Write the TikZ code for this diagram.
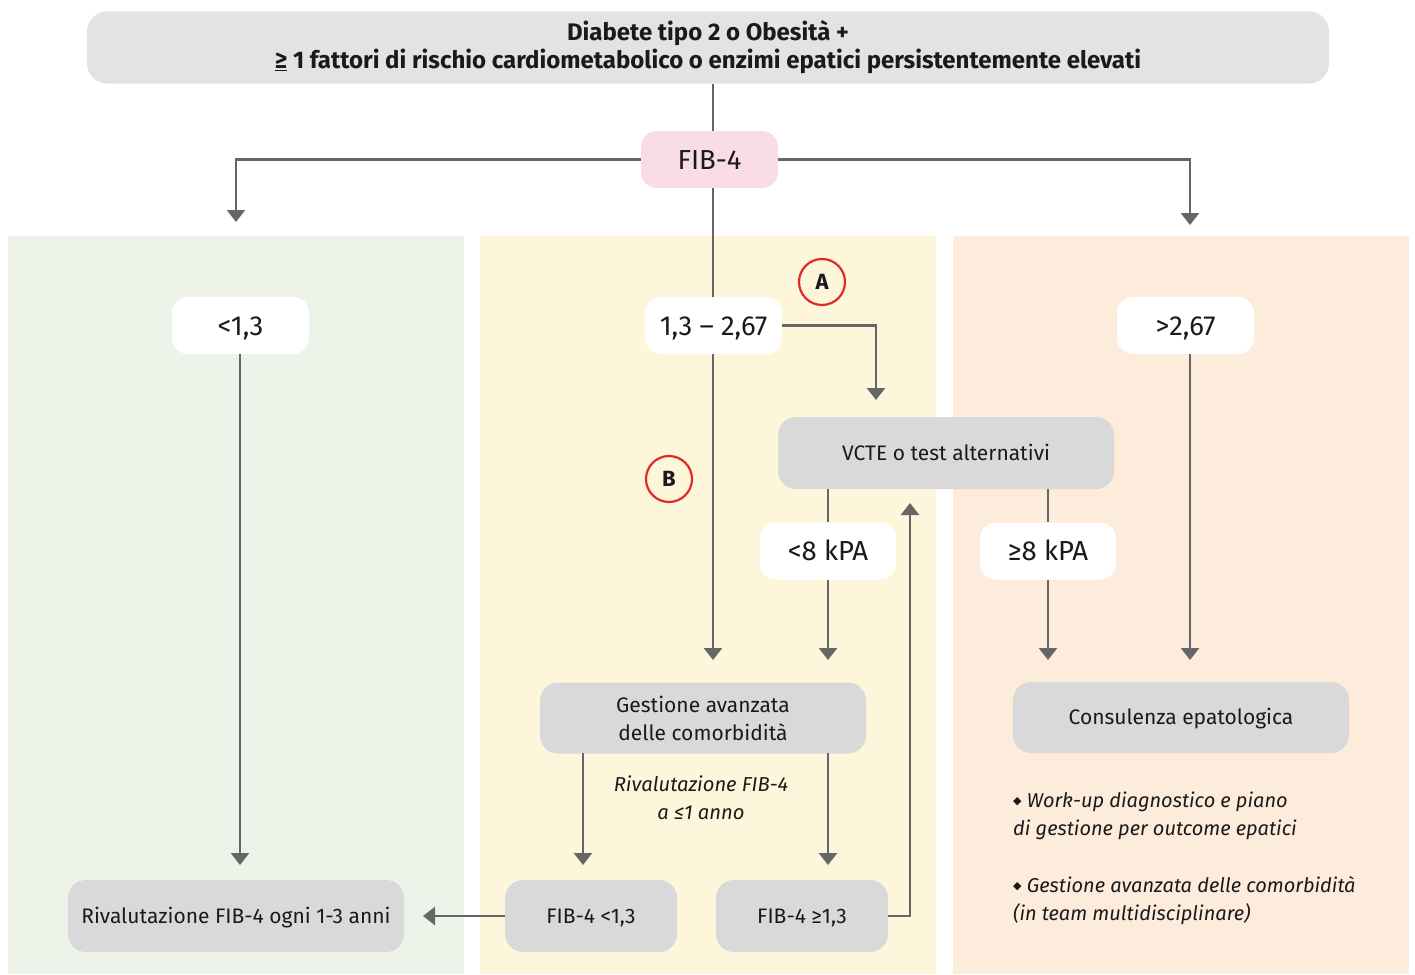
\documentclass[tikz,border=0pt]{standalone}
\usepackage{fontspec}
\setmainfont{Fira Sans}
\newfontfamily\symf{DejaVu Sans}
\usetikzlibrary{arrows.meta}
\definecolor{pgreen}{HTML}{EEF3EA}
\definecolor{pyellow}{HTML}{FEF6DA}
\definecolor{ppeach}{HTML}{FDEBDC}
\definecolor{boxgray}{HTML}{D9D9D9}
\definecolor{topgray}{HTML}{E3E3E3}
\definecolor{pinkbox}{HTML}{FADCE9}
\definecolor{lngray}{HTML}{666666}
\definecolor{redc}{HTML}{E02A2A}
\definecolor{txt}{HTML}{1A1A1A}
\begin{document}
\begin{tikzpicture}[x=1pt,y=-1pt,
  every node/.style={text=txt},
  graybox/.style={fill=boxgray, rounded corners=18pt, minimum width=336pt, minimum height=72pt, align=center, inner sep=0pt, font=\fontsize{21}{28}\selectfont},
  capg/.style={text height=14.5pt, text depth=0pt},
  smallbox/.style={graybox, capg, minimum width=172pt},
  pill/.style={fill=white, rounded corners=16pt, minimum width=137pt, minimum height=57pt, inner sep=0pt, text height=19pt, text depth=0pt, font=\fontsize{27.5}{30}\selectfont},
  ln/.style={draw=lngray, line width=2.6pt},
  arr/.style={ln, -{Triangle[width=18pt,length=12pt]}},
  circ/.style={circle, draw=redc, line width=2.2pt, minimum size=46pt, inner sep=0pt, font=\bfseries\fontsize{22}{22}\selectfont},
  note/.style={align=center, font=\itshape\fontsize{20.2}{28}\selectfont},
  bul/.style={anchor=north west, align=left, inner sep=0pt, font=\itshape\fontsize{20}{28}\selectfont}
]
\newcommand{\bdot}{\raisebox{3pt}{\symf\fontsize{11}{11}\selectfont ◆}}
\useasboundingbox (0,0) rectangle (1415,974);
\fill[white] (0,0) rectangle (1415,974);
% panels
\fill[pgreen] (8,236) rectangle (464,974);
\fill[pyellow] (480,236) rectangle (936,974);
\fill[ppeach] (953,236) rectangle (1409,974);

% nodes
\node[fill=topgray, rounded corners=20pt, minimum width=1242pt, minimum height=72pt, align=center, inner sep=0pt, font=\bfseries\fontsize{24}{28}\selectfont] (top) at (708,47.5)
  {Diabete tipo 2 o Obesità +\\ \underline{≥} 1 fattori di rischio cardiometabolico o enzimi epatici persistentemente elevati};
\node[pill, fill=pinkbox] (fib) at (709.5,159.5) {FIB-4};
\node[pill] (lo) at (240.5,325.5) {<1,3};
\node[pill] (mid) at (713.5,325.5) {1,3 – 2,67};
\node[pill] (hi) at (1185.5,325.5) {>2,67};
\node[graybox, capg] (vcte) at (946,453) {VCTE o test alternativi};
\node[pill, minimum width=136pt] (klo) at (828,551) {<8 kPA};
\node[pill, minimum width=136pt] (khi) at (1048,551) {≥8 kPA};
\node[graybox, minimum width=326pt, minimum height=71pt] (gest) at (703,718) {Gestione avanzata\\delle comorbidità};
\node[graybox, capg, minimum height=71pt] (cons) at (1181,717.5) {Consulenza epatologica};
\node[graybox, capg] (riv) at (236,916) {Rivalutazione FIB-4 ogni 1-3 anni};
\node[smallbox] (flo) at (591,916) {FIB-4 <1,3};
\node[smallbox] (fhi) at (802,916) {FIB-4 ≥1,3};
\node[circ] (A) at (822,282) {A};
\node[circ] (B) at (669,479) {B};
\node[note] (rn) at (701,798) {Rivalutazione FIB-4\\a ≤1 anno};
\node[bul] (b1) at (1013,792) {\bdot\ Work-up diagnostico e piano\\di gestione per outcome epatici};
\node[bul] (b2) at (1013,876) {\bdot\ Gestione avanzata delle comorbidità\\(in team multidisciplinare)};

% coordinates
\coordinate (cx) at (713,0);
\coordinate (lt) at (236,222);
\coordinate (ht) at (1190,225);
\coordinate (vt) at (876,400);
\coordinate (ft) at (910,503);
\coordinate (rt) at (423,916);
\coordinate (lotip) at (240,865);
\coordinate (midtip) at (713,660);
\coordinate (klotip) at (828,660);
\coordinate (khitip) at (1048,660);
\coordinate (hitip) at (1190,660);
\coordinate (gatop) at (583,753);
\coordinate (gatip) at (583,865);
\coordinate (gbtop) at (828,753);
\coordinate (gbtip) at (828,865);

% connectors
\draw[ln] (top.south -| cx) -- (fib.north -| cx);
\draw[ln] (fib.south -| cx) -- (mid.north -| cx);
\draw[arr] (fib.west) -| (lt);
\draw[arr] (fib.east) -| (ht);
\draw[arr] (lo.south -| lotip) -- (lotip);
\draw[arr] (mid.south -| midtip) -- (midtip);
\draw[arr] (mid.east) -| (vt);
\draw[ln] (vcte.south -| klo) -- (klo.north);
\draw[arr] (klo.south) -- (klotip);
\draw[ln] (vcte.south -| khi) -- (khi.north);
\draw[arr] (khi.south) -- (khitip);
\draw[arr] (hi.south -| hitip) -- (hitip);
\draw[arr] (gatop) -- (gatip);
\draw[arr] (gbtop) -- (gbtip);
\draw[arr] (fhi.east) -| (ft);
\draw[arr] (flo.west) -- (rt);
\end{tikzpicture}
\end{document}
